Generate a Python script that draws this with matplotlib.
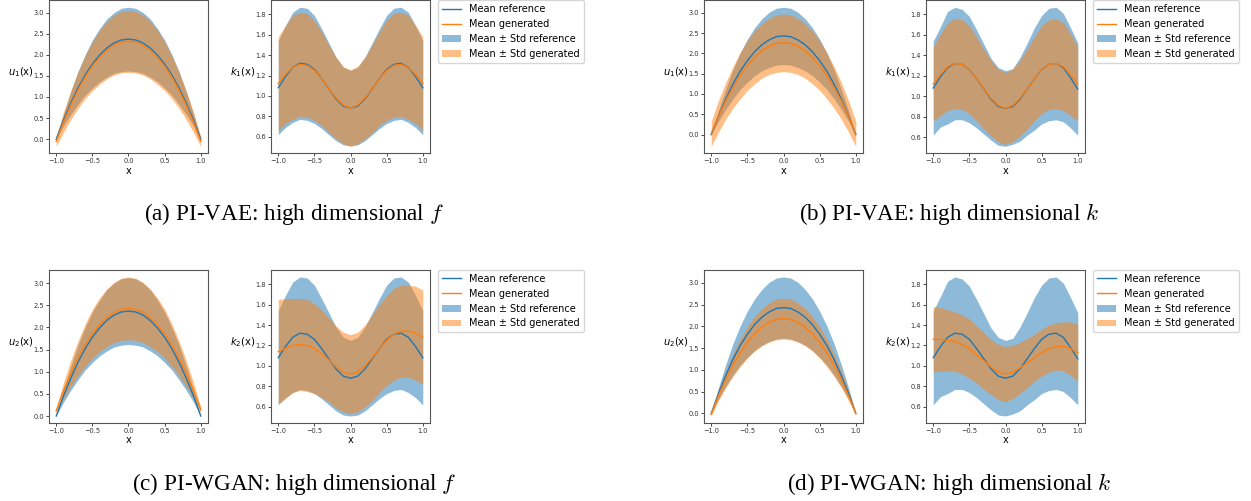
import numpy as np
import matplotlib.pyplot as plt
from matplotlib.ticker import MultipleLocator

# spatial grid shared by every curve
x = [-1.0, -0.9, -0.8, -0.7, -0.6, -0.5, -0.4, -0.3, -0.2, -0.1, 0.0,
     0.1, 0.2, 0.3, 0.4, 0.5, 0.6, 0.7, 0.8, 0.9, 1.0]

# reference statistics, high dimensional f dataset
u_ref_f_mean = [0.00, 0.45, 0.85, 1.21, 1.52, 1.78, 1.99, 2.16, 2.28, 2.35, 2.37,
                2.35, 2.28, 2.16, 1.99, 1.78, 1.52, 1.21, 0.85, 0.45, 0.00]
u_ref_f_std = [0.00, 0.14, 0.27, 0.39, 0.48, 0.57, 0.63, 0.69, 0.72, 0.75, 0.755,
               0.75, 0.72, 0.69, 0.63, 0.57, 0.48, 0.39, 0.27, 0.14, 0.00]
k_ref_f_mean = [1.08, 1.19, 1.28, 1.32, 1.31, 1.26, 1.17, 1.07, 0.97, 0.90, 0.88,
                0.90, 0.97, 1.07, 1.17, 1.26, 1.31, 1.32, 1.28, 1.19, 1.08]
k_ref_f_std = [0.46, 0.50, 0.54, 0.55, 0.55, 0.53, 0.49, 0.45, 0.41, 0.38, 0.37,
               0.38, 0.41, 0.45, 0.49, 0.53, 0.55, 0.55, 0.54, 0.50, 0.46]

# reference statistics, high dimensional k dataset
u_ref_k_mean = [0.00, 0.46, 0.87, 1.24, 1.56, 1.82, 2.04, 2.21, 2.33, 2.41, 2.43,
                2.41, 2.33, 2.21, 2.04, 1.82, 1.56, 1.24, 0.87, 0.46, 0.00]
u_ref_k_std = [0.00, 0.13, 0.25, 0.36, 0.45, 0.53, 0.59, 0.64, 0.68, 0.70, 0.705,
               0.70, 0.68, 0.64, 0.59, 0.53, 0.45, 0.36, 0.25, 0.13, 0.00]
k_ref_k_mean = [1.08, 1.19, 1.28, 1.32, 1.31, 1.26, 1.17, 1.07, 0.97, 0.90, 0.88,
                0.90, 0.97, 1.07, 1.17, 1.26, 1.31, 1.32, 1.28, 1.18, 1.07]
k_ref_k_std = [0.46, 0.49, 0.55, 0.55, 0.54, 0.52, 0.48, 0.44, 0.40, 0.38, 0.37,
               0.37, 0.41, 0.45, 0.50, 0.53, 0.55, 0.55, 0.53, 0.49, 0.45]

# PI-VAE, high dimensional f
u_vae_f_mean = [-0.05, 0.40, 0.80, 1.16, 1.47, 1.73, 1.94, 2.11, 2.23, 2.30, 2.32,
                2.30, 2.23, 2.11, 1.94, 1.73, 1.47, 1.16, 0.80, 0.40, -0.05]
u_vae_f_std = [0.12, 0.24, 0.34, 0.43, 0.51, 0.58, 0.64, 0.68, 0.71, 0.73, 0.735,
               0.73, 0.71, 0.68, 0.64, 0.58, 0.51, 0.43, 0.34, 0.24, 0.12]
k_vae_f_mean = [1.12, 1.21, 1.28, 1.31, 1.30, 1.25, 1.17, 1.07, 0.98, 0.91, 0.88,
                0.91, 0.98, 1.07, 1.17, 1.25, 1.30, 1.31, 1.28, 1.21, 1.12]
k_vae_f_std = [0.46, 0.48, 0.51, 0.51, 0.51, 0.49, 0.46, 0.43, 0.40, 0.38, 0.375,
               0.38, 0.40, 0.43, 0.46, 0.49, 0.51, 0.51, 0.51, 0.48, 0.46]

# PI-VAE, high dimensional k
u_vae_k_mean = [0.02, 0.45, 0.83, 1.16, 1.45, 1.70, 1.90, 2.06, 2.17, 2.24, 2.26,
                2.24, 2.17, 2.06, 1.90, 1.70, 1.45, 1.16, 0.83, 0.45, 0.02]
u_vae_k_std = [0.31, 0.39, 0.45, 0.51, 0.57, 0.61, 0.65, 0.67, 0.69, 0.71, 0.71,
               0.71, 0.69, 0.67, 0.65, 0.61, 0.57, 0.51, 0.45, 0.39, 0.31]
k_vae_k_mean = [1.12, 1.21, 1.29, 1.32, 1.31, 1.26, 1.17, 1.07, 0.98, 0.91, 0.88,
                0.91, 0.98, 1.07, 1.17, 1.26, 1.31, 1.32, 1.29, 1.21, 1.12]
k_vae_k_std = [0.36, 0.40, 0.43, 0.44, 0.44, 0.43, 0.41, 0.39, 0.37, 0.355, 0.35,
               0.355, 0.37, 0.39, 0.41, 0.43, 0.44, 0.44, 0.43, 0.40, 0.36]

# PI-WGAN, high dimensional f
u_gan_f_mean = [0.12, 0.57, 0.96, 1.30, 1.60, 1.86, 2.06, 2.22, 2.34, 2.41, 2.43,
                2.41, 2.34, 2.22, 2.06, 1.86, 1.60, 1.30, 0.96, 0.57, 0.14]
u_gan_f_std = [0.06, 0.18, 0.29, 0.39, 0.48, 0.55, 0.61, 0.65, 0.68, 0.70, 0.71,
               0.70, 0.68, 0.65, 0.61, 0.55, 0.48, 0.39, 0.29, 0.18, 0.06]
k_gan_f_mean = [1.14, 1.17, 1.20, 1.21, 1.20, 1.17, 1.12, 1.06, 0.99, 0.94, 0.92,
                0.94, 1.00, 1.08, 1.17, 1.25, 1.31, 1.34, 1.34, 1.32, 1.28]
k_gan_f_std = [0.51, 0.49, 0.46, 0.45, 0.45, 0.44, 0.43, 0.41, 0.40, 0.39, 0.385,
               0.39, 0.40, 0.42, 0.43, 0.44, 0.45, 0.45, 0.45, 0.46, 0.46]

# PI-WGAN, high dimensional k
u_gan_k_mean = [-0.02, 0.41, 0.78, 1.11, 1.39, 1.63, 1.83, 1.98, 2.09, 2.16, 2.18,
                2.16, 2.09, 1.98, 1.83, 1.63, 1.39, 1.11, 0.78, 0.41, 0.00]
u_gan_k_std = [0.04, 0.12, 0.19, 0.26, 0.32, 0.36, 0.40, 0.43, 0.45, 0.47, 0.47,
               0.47, 0.45, 0.43, 0.40, 0.36, 0.32, 0.26, 0.19, 0.12, 0.04]
k_gan_k_mean = [1.26, 1.26, 1.25, 1.24, 1.21, 1.17, 1.11, 1.05, 0.99, 0.94, 0.92,
                0.94, 0.98, 1.03, 1.08, 1.13, 1.17, 1.19, 1.19, 1.17, 1.13]
k_gan_k_std = [0.32, 0.31, 0.30, 0.29, 0.29, 0.29, 0.28, 0.28, 0.27, 0.27, 0.27,
               0.26, 0.25, 0.24, 0.23, 0.23, 0.23, 0.23, 0.24, 0.26, 0.28]

captions = [r"(a) PI-VAE: high dimensional $f$",
            r"(b) PI-VAE: high dimensional $k$",
            r"(c) PI-WGAN: high dimensional $f$",
            r"(d) PI-WGAN: high dimensional $k$"]

W, H = 1251, 501
fig = plt.figure(figsize=(W / 100, H / 100), dpi=100)


def box(left, top):
    # pixel position of an axes -> figure fraction
    return [left / W, 1 - (top + 153) / H, 159 / W, 153 / H]


def draw(ax, ref, ref_std, gen, gen_std, ylabel, step):
    ref, ref_std = np.array(ref), np.array(ref_std)
    gen, gen_std = np.array(gen), np.array(gen_std)
    ax.plot(x, ref, color="C0", lw=1.0, label="Mean reference")
    ax.plot(x, gen, color="C1", lw=1.0, label="Mean generated")
    ax.fill_between(x, ref - ref_std, ref + ref_std, color="C0", alpha=0.5,
                    lw=0, label="Mean ± Std reference")
    ax.fill_between(x, gen - gen_std, gen + gen_std, color="C1", alpha=0.5,
                    lw=0, label="Mean ± Std generated")
    ax.xaxis.set_major_locator(MultipleLocator(0.5))
    ax.yaxis.set_major_locator(MultipleLocator(step))
    ax.tick_params(labelsize=4.8, length=2, width=0.5, pad=1.5, labelcolor="#333333")
    for s in ax.spines.values():
        s.set_linewidth(0.8)
        s.set_color("#555555")
    ax.set_xlabel("x", fontsize=7, labelpad=1)
    ax.set_ylabel(ylabel, fontsize=7.2, rotation=0, ha="right", va="center")
    ax.yaxis.set_label_coords(-0.095, 0.53)


def panel(left, top, n, u_ref, u_ref_std, u_gen, u_gen_std,
          k_ref, k_ref_std, k_gen, k_gen_std):
    ax_u = fig.add_axes(box(left, top))
    ax_k = fig.add_axes(box(left + 222, top))
    draw(ax_u, u_ref, u_ref_std, u_gen, u_gen_std, r"$u_%d$(x)" % n, 0.5)
    draw(ax_k, k_ref, k_ref_std, k_gen, k_gen_std, r"$k_%d$(x)" % n, 0.2)
    ax_k.legend(loc="upper left", bbox_to_anchor=(1.05, 1.0), borderaxespad=0,
                fontsize=7.0)


panel(49, 0.3, 1, u_ref_f_mean, u_ref_f_std, u_vae_f_mean, u_vae_f_std,
      k_ref_f_mean, k_ref_f_std, k_vae_f_mean, k_vae_f_std)
panel(704, 0.3, 1, u_ref_k_mean, u_ref_k_std, u_vae_k_mean, u_vae_k_std,
      k_ref_k_mean, k_ref_k_std, k_vae_k_mean, k_vae_k_std)
panel(49, 270, 2, u_ref_f_mean, u_ref_f_std, u_gan_f_mean, u_gan_f_std,
      k_ref_f_mean, k_ref_f_std, k_gan_f_mean, k_gan_f_std)
panel(704, 270, 2, u_ref_k_mean, u_ref_k_std, u_gan_k_mean, u_gan_k_std,
      k_ref_k_mean, k_ref_k_std, k_gan_k_mean, k_gan_k_std)

# sub-figure captions
for cap, cx, base in zip(captions, [294, 949, 294, 949], [220, 220, 490, 490]):
    fig.text(cx / W, 1 - base / H, cap, ha="center", va="baseline",
             family="Liberation Serif", fontsize=16.7, math_fontfamily="cm")

fig.savefig("out.png", dpi=100)
